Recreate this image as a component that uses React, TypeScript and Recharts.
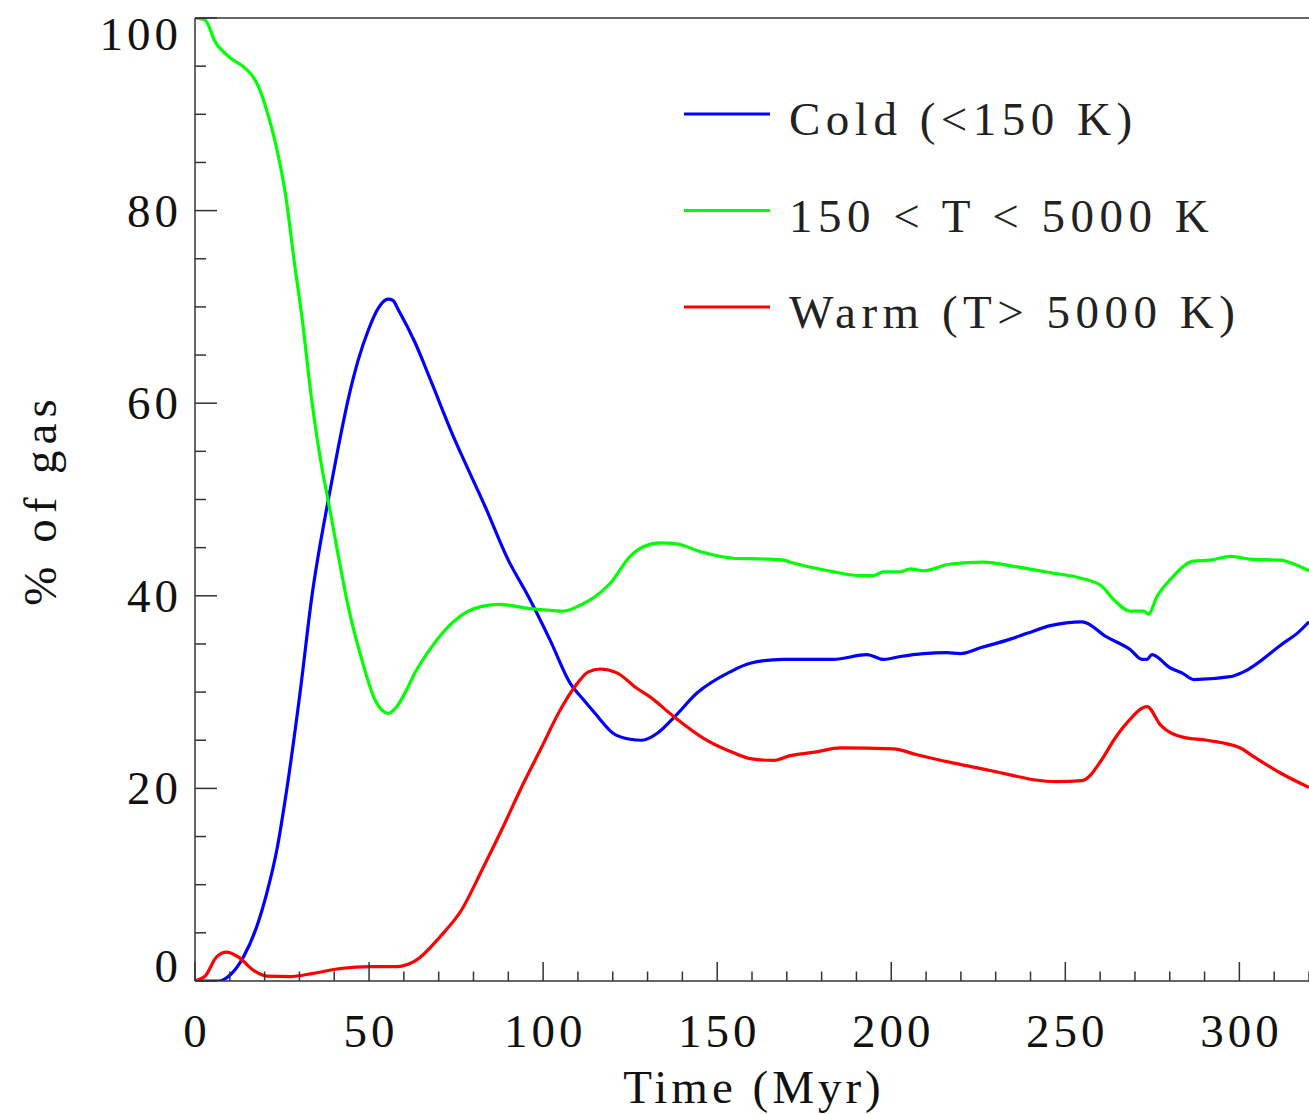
import React from 'react';
import { LineChart, Line, XAxis, YAxis, Legend } from 'recharts';

// ---- Data ----
const coldTime = [0, 7, 10, 13.9, 17.7, 20.6, 23.5, 26.4, 30.2, 33.6, 38.3, 41.2, 44, 46.9, 49.8, 52.7, 55.5, 56.8, 58.4, 63.2, 68, 73.8, 78.5, 83.3, 90, 95.8, 102, 107.8, 111.6, 114.9, 120.2, 125, 128.4, 132.7, 137.4, 144.2, 153.7, 159.5, 169, 183.4, 193, 197.8, 202.6, 209.3, 216, 219.8, 225.6, 234.2, 239, 245.7, 254.8, 262, 268.7, 272, 273.5, 274.9, 280.2, 283.5, 286.9, 297.4, 301.2, 312.7, 316.6, 320];
const coldPct = [0, 0, 0.6, 2.5, 5.6, 9.1, 13.6, 20, 30, 40, 50, 55.5, 60.4, 64.5, 67.6, 69.9, 70.8, 70.7, 69.7, 66.3, 62.1, 56.9, 53.1, 49.3, 43.7, 39.9, 35.4, 30.9, 29.2, 27.8, 25.7, 25.1, 25, 25.7, 27.3, 29.9, 32.1, 33, 33.4, 33.4, 33.9, 33.4, 33.7, 34, 34.1, 34, 34.6, 35.5, 36.1, 36.9, 37.3, 35.7, 34.4, 33.4, 33.4, 33.9, 32.5, 32, 31.3, 31.6, 32.1, 35.1, 36.1, 37.3];

const midTime = [0, 2.9, 5.7, 10, 14.4, 17.2, 19, 20.6, 23, 25.9, 28.7, 30.7, 33.5, 36.4, 38.3, 41.2, 44, 47.9, 51.7, 55.5, 58, 60.3, 63.2, 68, 72.8, 78.5, 82.4, 87.2, 95.8, 102, 105.8, 111.1, 114.9, 119.3, 125, 128.8, 133.6, 138.4, 145.1, 154.7, 165, 169, 171.9, 183.4, 191.1, 194.9, 197.8, 202.6, 205.5, 209.3, 217, 226.5, 236.1, 245.7, 254.8, 260.5, 263.9, 268.7, 272.5, 273.9, 276.3, 280.2, 286.9, 291.7, 297.4, 303.2, 311.8, 315.6, 320];
const midPct = [100, 99.8, 97.6, 95.9, 94.8, 93.6, 92.2, 90.4, 87.2, 81.9, 74.2, 69, 60.4, 53.4, 49.8, 44.1, 38.9, 33.4, 29.2, 27.8, 28.5, 29.9, 32, 34.7, 36.8, 38.4, 38.9, 39.1, 38.7, 38.5, 38.4, 39.1, 39.9, 41.3, 44.1, 45.1, 45.5, 45.4, 44.6, 43.9, 43.8, 43.7, 43.4, 42.5, 42.1, 42.1, 42.5, 42.5, 42.8, 42.6, 43.3, 43.5, 43.0, 42.4, 41.8, 41.0, 39.6, 38.4, 38.4, 38.1, 39.9, 41.7, 43.6, 43.7, 44.1, 43.8, 43.7, 43.3, 42.6];

const warmTime = [0, 2.9, 6.2, 9.1, 12.4, 16.8, 20.6, 27.3, 34, 41.7, 50.3, 58, 63.7, 70.4, 76.6, 82.4, 88.1, 93.9, 99.6, 104.4, 109.2, 113, 116.4, 121.2, 126.9, 130.7, 137.4, 146.1, 154.7, 159.5, 166.2, 171, 178.6, 185.3, 200.6, 207.4, 217, 226.5, 234.2, 240.9, 247.6, 254.8, 260.5, 263.9, 267.7, 273.5, 277.3, 284, 290.7, 300.3, 304.1, 311.8, 320];
const warmPct = [0, 0.5, 2.5, 3.0, 2.5, 1.1, 0.5, 0.45, 0.8, 1.3, 1.5, 1.5, 2.2, 4.6, 7.4, 11.5, 15.7, 20.2, 24.3, 27.8, 30.6, 32.1, 32.4, 32, 30.4, 29.5, 27.5, 25.2, 23.7, 23.1, 22.9, 23.4, 23.8, 24.2, 24.1, 23.5, 22.7, 22, 21.4, 20.9, 20.7, 20.8, 23, 25, 26.8, 28.5, 26.6, 25.3, 25, 24.2, 23.3, 21.6, 20.1];

const seriesNames = ['Cold (<150 K)', '150 < T < 5000 K', 'Warm (T> 5000 K)'];
const seriesColors = ['#0000ff', '#00ff00', '#ff0000'];

const xTickValues = [0, 10, 20, 30, 40, 50, 60, 70, 80, 90, 100, 110, 120, 130, 140, 150, 160, 170, 180, 190, 200, 210, 220, 230, 240, 250, 260, 270, 280, 290, 300, 310, 320];
const xLabelTicks = [0, 50, 100, 150, 200, 250, 300];
const yTickValues = [0, 5, 10, 15, 20, 25, 30, 35, 40, 45, 50, 55, 60, 65, 70, 75, 80, 85, 90, 95, 100];
const yLabelTicks = [0, 20, 40, 60, 80, 100];

const xTitle = 'Time (Myr)';
const yTitle = '% of gas';

const zip = (t: number[], v: number[]) => t.map((x, i) => ({ t: x, v: v[i] }));
const coldData = zip(coldTime, coldPct);
const midData = zip(midTime, midPct);
const warmData = zip(warmTime, warmPct);

const FONT = '"Liberation Serif", "Times New Roman", serif';
const FS = 47;
const LS = 4;
const AXIS = '#333';

const BottomTick = (props: any) => {
  const { x, y, payload } = props;
  const v = payload.value;
  const major = xLabelTicks.includes(v);
  return (
    <g>
      <line x1={x} y1={y} x2={x} y2={y - (major ? 19 : 9.5)} stroke={AXIS} strokeWidth={1.5} />
      {major && (
        <text x={x + LS / 2} y={y + 66} textAnchor="middle" fontFamily={FONT} fontSize={FS} letterSpacing={LS} fill="#111">
          {v}
        </text>
      )}
    </g>
  );
};

const TopTick = (props: any) => {
  const { x, y, payload } = props;
  const major = xLabelTicks.includes(payload.value);
  return <line x1={x} y1={y} x2={x} y2={y + (major ? 19 : 9.5)} stroke={AXIS} strokeWidth={1.5} />;
};

const LeftTick = (props: any) => {
  const { x, y, payload } = props;
  const v = payload.value;
  const major = yLabelTicks.includes(v);
  let baseline = y + 16;
  if (v === 100) baseline = y + 32;
  if (v === 0) baseline = y + 1;
  return (
    <g>
      <line x1={x} y1={y} x2={x + (major ? 22 : 11)} y2={y} stroke={AXIS} strokeWidth={1.5} />
      {major && (
        <text x={x - 17 + LS} y={baseline} textAnchor="end" fontFamily={FONT} fontSize={FS} letterSpacing={LS} fill="#111">
          {v}
        </text>
      )}
    </g>
  );
};

const RightTick = (props: any) => {
  const { x, y, payload } = props;
  const major = yLabelTicks.includes(payload.value);
  return <line x1={x} y1={y} x2={x - (major ? 22 : 11)} y2={y} stroke={AXIS} strokeWidth={1.5} />;
};

const XTitle = (props: any) => {
  const vb = props.viewBox;
  return (
    <text x={vb.x + vb.width / 2 + LS / 2} y={vb.y + 122} textAnchor="middle" fontFamily={FONT} fontSize={FS} letterSpacing={LS} fill="#111">
      {xTitle}
    </text>
  );
};

const YTitle = (props: any) => {
  const vb = props.viewBox;
  const cx = 56;
  const cy = vb.y + vb.height / 2;
  return (
    <text x={cx} y={cy} transform={`rotate(-90 ${cx} ${cy})`} textAnchor="middle" fontFamily={FONT} fontSize={FS} letterSpacing={6} fill="#111">
      {yTitle}
    </text>
  );
};

const LegendContent = (props: any) => {
  const payload = [...(props.payload || [])].sort(
    (a: any, b: any) => seriesNames.indexOf(a.value) - seriesNames.indexOf(b.value)
  );
  return (
    <svg width={620} height={260} style={{ display: 'block', overflow: 'visible' }}>
      {payload.map((p: any, i: number) => (
        <g key={p.value}>
          <line x1={14} x2={100} y1={34 + 96.5 * i} y2={34 + 96.5 * i} stroke={p.color} strokeWidth={3} />
          <text x={119} y={55 + 96.5 * i} fontFamily={FONT} fontSize={FS} letterSpacing={5.5} fill="#222">
            {p.value}
          </text>
        </g>
      ))}
    </svg>
  );
};

export default function App() {
  return (
    <div style={{ position: 'absolute', left: 0, top: 0, width: 1309, height: 1114, overflow: 'hidden', background: '#fff' }}>
      <LineChart width={1309} height={1114} margin={{ top: 0, right: 0, bottom: 0, left: 0 }}>
        <XAxis
          xAxisId="bottom"
          dataKey="t"
          type="number"
          domain={[0, 320]}
          allowDataOverflow
          ticks={xTickValues}
          interval={0}
          height={133}
          tickSize={0}
          tickMargin={0}
          tickLine={false}
          tick={<BottomTick />}
          axisLine={{ stroke: AXIS, strokeWidth: 1.5 }}
          label={{ content: <XTitle /> }}
        />
        <XAxis
          xAxisId="top"
          orientation="top"
          type="number"
          domain={[0, 320]}
          allowDataOverflow
          ticks={xTickValues}
          interval={0}
          height={18}
          tickSize={0}
          tickMargin={0}
          tickLine={false}
          tick={<TopTick />}
          axisLine={{ stroke: AXIS, strokeWidth: 1.5 }}
        />
        <YAxis
          yAxisId="left"
          type="number"
          domain={[0, 100]}
          allowDataOverflow
          ticks={yTickValues}
          interval={0}
          width={195}
          tickSize={0}
          tickMargin={0}
          tickLine={false}
          tick={<LeftTick />}
          axisLine={{ stroke: AXIS, strokeWidth: 1.5 }}
          label={{ content: <YTitle /> }}
        />
        <YAxis
          yAxisId="right"
          orientation="right"
          type="number"
          domain={[0, 100]}
          allowDataOverflow
          ticks={yTickValues}
          interval={0}
          width={0}
          tickSize={0}
          tickMargin={0}
          tickLine={false}
          tick={<RightTick />}
          axisLine={false}
        />
        <Legend
          layout="vertical"
          align="center"
          verticalAlign="middle"
          content={<LegendContent />}
          wrapperStyle={{ top: 80, left: 670, width: 620, height: 260 }}
        />
        <Line data={coldData} xAxisId="bottom" yAxisId="left" dataKey="v" name={seriesNames[0]} type="monotone" stroke={seriesColors[0]} strokeWidth={3.2} dot={false} isAnimationActive={false} />
        <Line data={midData} xAxisId="bottom" yAxisId="left" dataKey="v" name={seriesNames[1]} type="monotone" stroke={seriesColors[1]} strokeWidth={3.2} dot={false} isAnimationActive={false} />
        <Line data={warmData} xAxisId="bottom" yAxisId="left" dataKey="v" name={seriesNames[2]} type="monotone" stroke={seriesColors[2]} strokeWidth={3.2} dot={false} isAnimationActive={false} />
      </LineChart>
    </div>
  );
}
